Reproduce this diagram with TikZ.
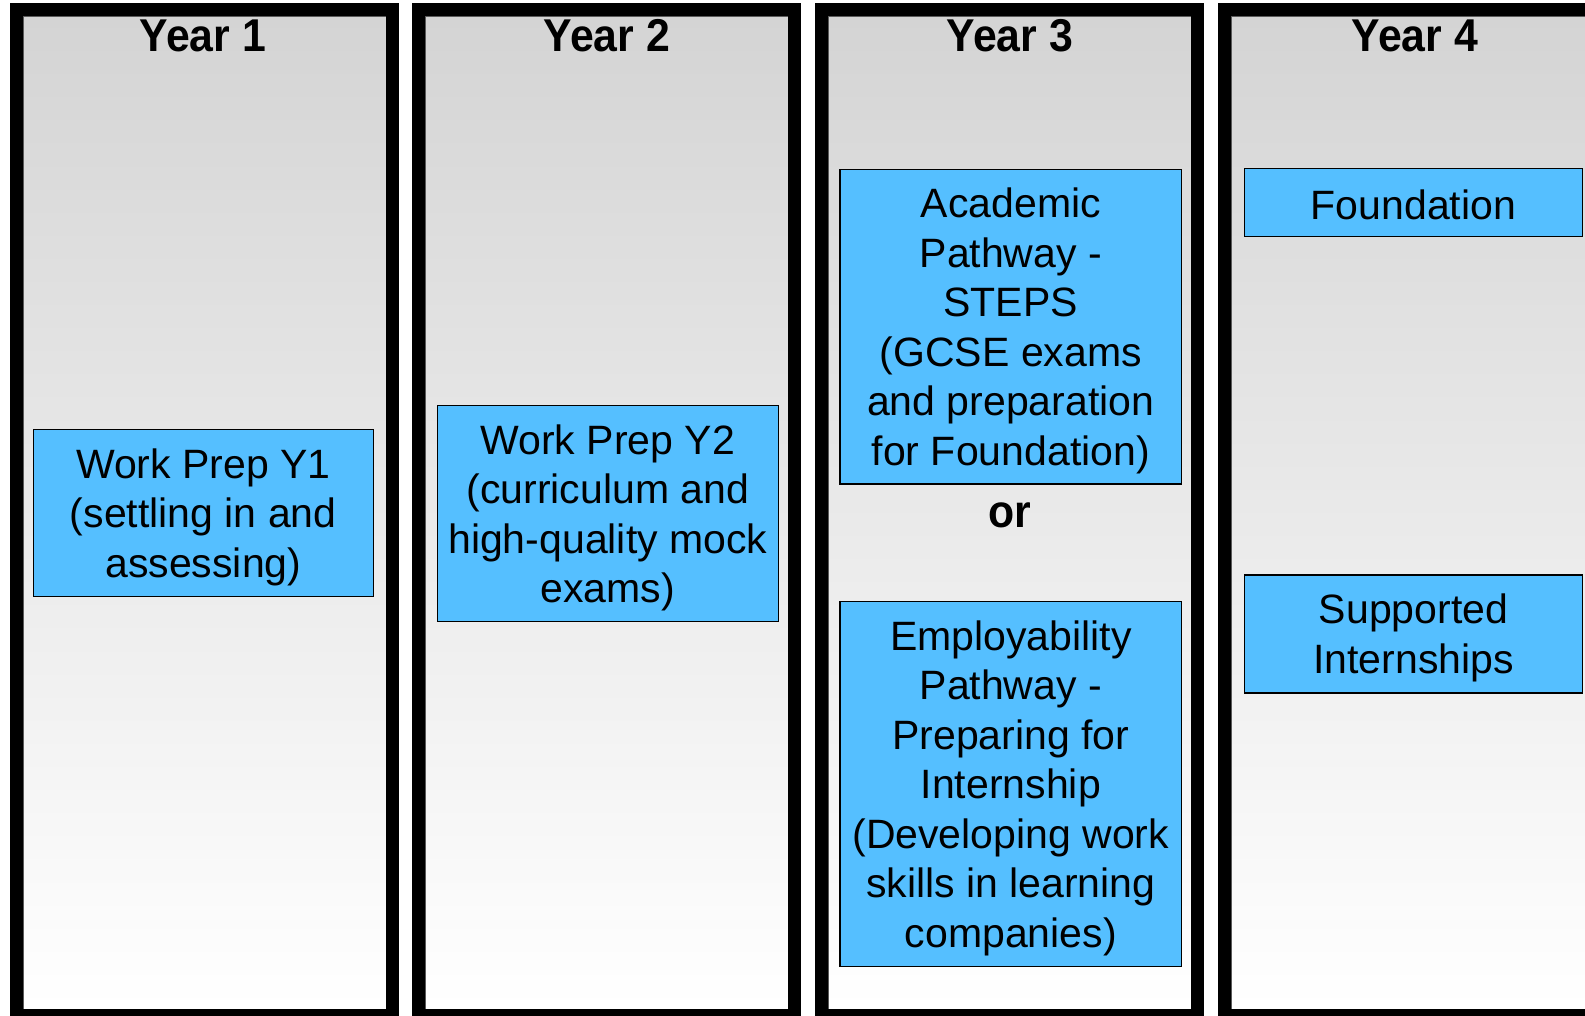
\documentclass[tikz,border=0pt]{standalone}
\usepackage{fontspec}
\setmainfont{Liberation Sans}
\definecolor{boxblue}{RGB}{85,191,255}
\definecolor{colgray}{RGB}{212,212,212}
\definecolor{edgegray}{RGB}{90,90,90}
\tikzset{
  yearlabel/.style={font=\bfseries\fontsize{46}{50}\selectfont, anchor=base, inner sep=0},
  pathbox/.style n args={2}{draw=black, fill=boxblue, line width=1.5pt,
     inner sep=0, minimum width=#1, minimum height=#2},
  boxtext/.style={align=center, inner sep=0, font=\fontsize{41}{49.5}\selectfont},
  colframe/.style={draw=black, line width=13pt},
  colfill/.style={top color=colgray, bottom color=white, draw=edgegray, line width=0.8pt}
}
\begin{document}
\begin{tikzpicture}[x=1pt,y=-1pt]
\useasboundingbox (0,0) rectangle (1585,1015);
\clip (0,0) rectangle (1585,1015);
% columns
\foreach \L in {10,412,815,1218}{
  \shade[colfill] (\L+13,16) rectangle (\L+376,1009);
  \draw[colframe] (\L+6.5,9.5) rectangle (\L+382.5,1015.5);
}
% year labels
\node[yearlabel] (y1) at (203,51) {\scalebox{0.93}[1]{Year 1}};
\node[yearlabel] (y2) at (607,51) {\scalebox{0.93}[1]{Year 2}};
\node[yearlabel] (y3) at (1010,51) {\scalebox{0.93}[1]{Year 3}};
\node[yearlabel] (y4) at (1415,51) {\scalebox{0.93}[1]{Year 4}};
% boxes
\node[pathbox={340pt}{167.4pt}] (b1) at (203.3,513) {};
\node[boxtext] (t1) at ([yshift=-4pt]b1.center) {Work Prep Y1\\(settling in and\\assessing)};
\node[pathbox={341pt}{216pt}] (b2) at (607.8,513.7) {};
\node[boxtext] (t2) at ([yshift=-4pt]b2.center) {Work Prep Y2\\(curriculum and\\high-quality mock\\exams)};
\node[pathbox={341.7pt}{314.7pt}] (b3) at (1010.8,326.7) {};
\node[boxtext] (t3) at ([yshift=-4pt]b3.center) {Academic\\Pathway -\\STEPS\\(GCSE exams\\and preparation\\for Foundation)};
\node[yearlabel] (or) at (1010,527) {\scalebox{0.93}[1]{or}};
\node[pathbox={341.7pt}{365pt}] (b4) at (1010.8,784.2) {};
\node[boxtext] (t4) at ([yshift=-4pt]b4.center) {Employability\\Pathway -\\Preparing for\\Internship\\(Developing work\\skills in learning\\companies)};
\node[pathbox={338.4pt}{68.4pt}] (b5) at (1413.5,202.5) {};
\node[boxtext] (t5) at ([yshift=-2pt]b5.center) {Foundation};
\node[pathbox={338.4pt}{117.7pt}] (b6) at (1413.5,633.9) {};
\node[boxtext] (t6) at ([yshift=-4pt]b6.center) {Supported\\Internships};
\end{tikzpicture}
\end{document}
